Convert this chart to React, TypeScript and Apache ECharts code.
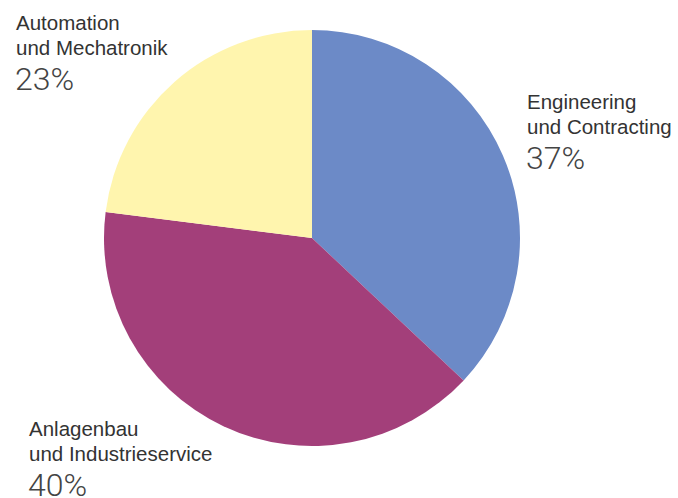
import React, { useEffect, useRef } from "react";
import * as echarts from "echarts";

const categories = [
  ["Engineering", "und Contracting"],
  ["Anlagenbau", "und Industrieservice"],
  ["Automation", "und Mechatronik"],
];
const values = [37, 40, 23];
const colors = ["#6C8AC7", "#A33F7A", "#FFF5AE"];
// label anchor (left x, first-line baseline y)
const labelPos = [
  [527, 108],
  [29, 435],
  [16, 29],
];

export default function App() {
  const ref = useRef<HTMLDivElement>(null);
  useEffect(() => {
    document.body.style.margin = "0";
    const chart = echarts.init(ref.current!, null, { renderer: "svg" });
    const textColor = "#333";
    const graphics: any[] = [];
    categories.forEach((lines, i) => {
      const [x, y] = labelPos[i];
      lines.forEach((line, j) => {
        graphics.push({
          type: "text",
          x,
          y: y + j * 25.8 - 7,
          style: {
            text: line,
            fill: textColor,
            font: "20.5px 'Liberation Sans', Arial, sans-serif",
            verticalAlign: "middle",
            align: "left",
          },
        });
      });
      graphics.push({
        type: "text",
        x: x - 1,
        y: y + 2 * 25.8 + 9 - 11,
        style: {
          text: values[i] + "%",
          fill: "#444",
          font: "300 32px Roboto, 'Liberation Sans', Arial, sans-serif",
          verticalAlign: "middle",
          align: "left",
        },
      });
    });
    chart.setOption({
      animation: false,
      backgroundColor: "#fff",
      graphic: graphics,
      series: [
        {
          type: "pie",
          center: [312, 238],
          radius: [0, 208],
          startAngle: 90,
          clockwise: true,
          label: { show: false },
          labelLine: { show: false },
          emphasis: { disabled: true },
          itemStyle: { borderWidth: 0 },
          data: values.map((v, i) => ({
            value: v,
            name: categories[i].join(" "),
            itemStyle: { color: colors[i] },
          })),
        },
      ],
    });
    return () => chart.dispose();
  }, []);
  return (
    <div
      ref={ref}
      style={{ position: "absolute", left: 0, top: 0, width: 678, height: 498 }}
    />
  );
}
